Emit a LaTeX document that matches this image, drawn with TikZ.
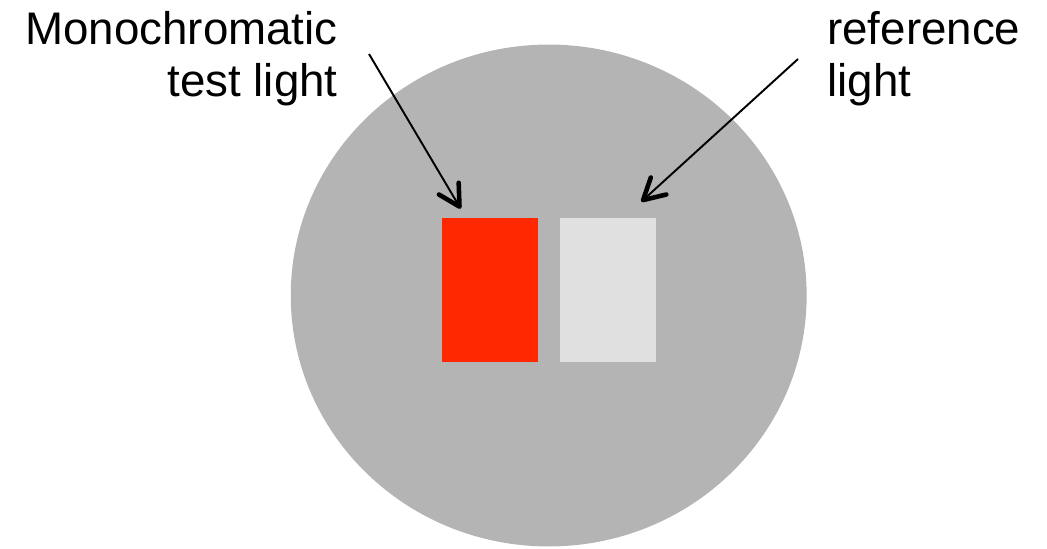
\documentclass[tikz,border=0pt]{standalone}
\usepackage{fontspec}
\setmainfont{Liberation Sans}
\usepackage{tikz}
\usetikzlibrary{arrows.meta,shapes.geometric,positioning}

\definecolor{fieldgray}{RGB}{180,180,180}
\definecolor{testred}{RGB}{255,40,0}
\definecolor{refgray}{RGB}{224,224,224}

\begin{document}
\begin{tikzpicture}[x=0.02cm,y=0.02cm]

\tikzset{
  label/.style={font=\fontsize{26}{29.6}\selectfont, inner sep=0pt},
  patch/.style={rectangle, draw=none, inner sep=0pt,
                minimum width=1.92cm, minimum height=2.88cm},
  pointer/.style={black, line width=1.1pt,
                  -{Straight Barb[round, length=0.42cm, width=0.46cm, line width=2.6pt]}}
}

\useasboundingbox (0,0) rectangle (1047,548);

% Background field
\node[ellipse, fill=fieldgray, inner sep=0pt,
      minimum width=10.32cm, minimum height=10.04cm] (field) at (548.7,252.5) {};

% Test and reference lights
\node[patch, fill=testred] (test) at (490,258) {};
\node[patch, fill=refgray] (ref) at (608,258) {};

% Labels
\node[label, anchor=base east, align=right] (testlabel) at (338,451) {Monochromatic\\test light};
\node[label, anchor=base west, align=left] (reflabel) at (827,451) {reference\\light};

% Pointers
\coordinate (ts) at (369,494);
\coordinate (rs) at (798,489);
\draw[pointer] (ts) -- ([shift={(19,9)}]test.north west);
\draw[pointer] (rs) -- ([shift={(-15,16)}]ref.north east);

\end{tikzpicture}
\end{document}
